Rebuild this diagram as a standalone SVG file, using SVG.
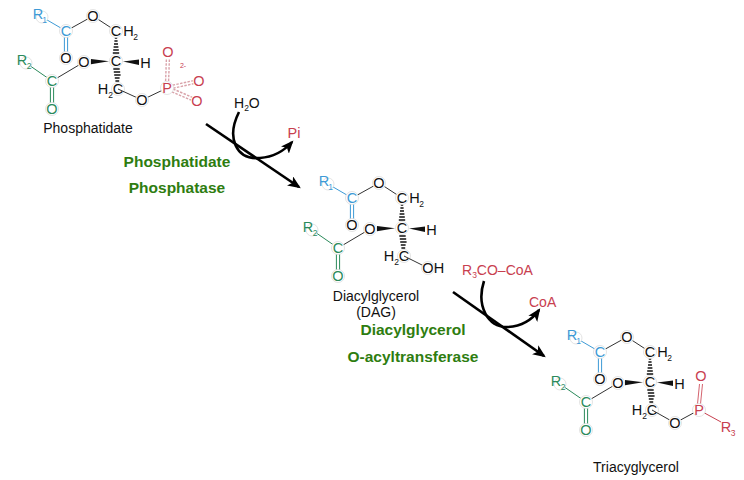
<svg xmlns="http://www.w3.org/2000/svg" width="744" height="480" viewBox="0 0 744 480">
<style>
text { font-family: "Liberation Sans", Arial, Helvetica, sans-serif; }
.at { font-size: 14.5px; text-anchor: middle; }
.sub { font-size: 8.5px; text-anchor: middle; }
.lbl { font-size: 14px; text-anchor: middle; fill: #111; }
.enz { font-size: 15.5px; font-weight: bold; text-anchor: middle; fill: #2e7d10; }
.ring { fill: #fff; stroke: #dcdcdc; stroke-width: 0.8; }
.bond { stroke: #333; stroke-width: 1; fill: none; }
.bl { stroke: #3d9ad6; }
.gr { stroke: #2b8a5b; }
.rd { stroke: #c8404f; }
.pdash { stroke: #d9a3aa; stroke-width: 1.4; stroke-dasharray: 2.5 1.3; fill: none; }
.tb { fill: #3d9ad6; }
.tg { fill: #2b8a5b; }
.tr { fill: #c8404f; }
.tk { fill: #111; }
.arrow { stroke: #000; stroke-width: 2.6; fill: none; marker-end: url(#head); }
</style>
<defs>
<marker id="head" viewBox="0 0 12 10" refX="10" refY="5" markerWidth="13" markerHeight="11" markerUnits="userSpaceOnUse" orient="auto">
<path d="M0,0 L12,5 L0,10 L3,5 Z" fill="#000"/>
</marker>
<g id="core">
<line class="bond bl" x1="-74" y1="-44" x2="-50" y2="-30"/>
<line class="bond" x1="-50" y1="-30" x2="-23" y2="-45"/>
<line class="bond" x1="-23" y1="-45" x2="0" y2="-30"/>
<line class="bond bl" x1="-51.6" y1="-30" x2="-51.6" y2="-3"/>
<line class="bond bl" x1="-48.4" y1="-30" x2="-48.4" y2="-3"/>
<line class="bond gr" x1="-90" y1="2" x2="-64" y2="20"/>
<line class="bond" x1="-64" y1="20" x2="-32" y2="1"/>
<line class="bond gr" x1="-65.6" y1="20" x2="-65.6" y2="48"/>
<line class="bond gr" x1="-62.4" y1="20" x2="-62.4" y2="48"/>
<polygon points="-7,0.3 -25,-1.9 -25,3.3" fill="#111"/>
<polygon points="7,0.5 23,-1.5 23,3.9" fill="#111"/>
<path d="M-3.2,-8H3.2M-2.8,-11H2.8M-2.4,-14H2.4M-2,-17H2M-1.6,-20H1.6M-1.2,-23H1.2" stroke="#111" stroke-width="1.3"/>
<path d="M-2.7,8H3.7M-2.2,11H4.2M-1.8,14H4.6M-1.2,17H3.6M-0.6,20H3.2" stroke="#111" stroke-width="1.3"/>
<circle class="ring" cx="-74" cy="-44" r="6"/>
<circle class="ring" cx="-50" cy="-30" r="6.5"/>
<circle class="ring" cx="-23" cy="-45" r="6.5"/>
<circle class="ring" cx="0" cy="-30" r="6.5"/>
<circle class="ring" cx="-50" cy="-3" r="6.5"/>
<circle class="ring" cx="-32" cy="1" r="6.5"/>
<circle class="ring" cx="0" cy="0" r="6.5"/>
<circle class="ring" cx="-90" cy="2" r="6"/>
<circle class="ring" cx="-64" cy="20" r="6.5"/>
<circle class="ring" cx="-64" cy="48" r="6.5"/>
<circle class="ring" cx="2" cy="28" r="6.5"/>
<text class="at tb" x="-78" y="-41.8">R</text><text class="sub tb" x="-71.5" y="-38">1</text>
<text class="at tb" x="-50" y="-24.8">C</text>
<text class="at tk" x="-23" y="-39.8">O</text>
<text class="at tk" x="0" y="-24.8">C</text><text class="at tk" x="12.5" y="-24.8">H</text><text class="sub tk" x="19.5" y="-21">2</text>
<text class="at tk" x="-50" y="2.2">O</text>
<text class="at tk" x="-32" y="6.2">O</text>
<text class="at tk" x="0" y="5.2">C</text>
<text class="at tk" x="29.5" y="7.2">H</text>
<text class="at tg" x="-94" y="4.2">R</text><text class="sub tg" x="-87" y="7.5">2</text>
<text class="at tg" x="-64" y="25.2">C</text>
<text class="at tg" x="-64" y="53.2">O</text>
<text class="at tk" x="-13" y="33.2">H</text><text class="sub tk" x="-5.5" y="36.5">2</text><text class="at tk" x="2" y="33.2">C</text>
</g>
</defs>
<rect width="744" height="480" fill="#fff"/>

<g id="phosphatidate" transform="translate(116,61)">
<use href="#core"/>
<line class="bond" x1="2" y1="28" x2="26" y2="39"/>
<line class="bond" x1="26" y1="39" x2="51" y2="27"/>
<line class="pdash" x1="49.6" y1="20" x2="50.4" y2="-2"/>
<line class="pdash" x1="52.6" y1="20" x2="53.4" y2="-2"/>
<line class="pdash" x1="57.2" y1="27.2" x2="77.4" y2="22.8"/>
<line class="pdash" x1="56.6" y1="24.2" x2="76.8" y2="19.8"/>
<line class="pdash" x1="55.9" y1="30.8" x2="74.9" y2="39"/>
<line class="pdash" x1="57.1" y1="28" x2="76.1" y2="36.2"/>
<circle class="ring" cx="26" cy="39" r="6.5"/>
<circle class="ring" cx="51" cy="27" r="6.5"/>
<text class="at tk" x="26" y="44.2">O</text>
<text class="at tr" x="51" y="32.2">P</text>
<text class="at tr" x="52" y="-3.8">O</text>
<text class="at tr" x="83" y="25.2">O</text>
<text class="at tr" x="81" y="45.2">O</text>
<text class="sub tr" x="67" y="7" style="font-size:7px">2-</text>
<text class="lbl" x="-28" y="72">Phosphatidate</text>
</g>

<g id="dag" transform="translate(402,228)">
<use href="#core"/>
<line class="bond" x1="2" y1="28" x2="26" y2="40"/>
<circle class="ring" cx="26" cy="40" r="6.5"/>
<text class="at tk" x="26" y="45.2">O</text>
<text class="at tk" x="37" y="45.2">H</text>
<text class="lbl" x="-26" y="73">Diacylglycerol</text>
<text class="lbl" x="-26" y="89">(DAG)</text>
</g>

<g id="tag" transform="translate(650,382)">
<use href="#core"/>
<line class="bond" x1="2" y1="28" x2="25" y2="41"/>
<line class="bond" x1="25" y1="41" x2="49" y2="28"/>
<line class="bond" x1="47.5" y1="22" x2="49.5" y2="2" style="stroke:#d4636e"/>
<line class="bond" x1="50.5" y1="22" x2="52.5" y2="2" style="stroke:#d4636e"/>
<line class="bond rd" x1="49" y1="28" x2="71" y2="40"/>
<circle class="ring" cx="25" cy="41" r="6.5"/>
<circle class="ring" cx="49" cy="28" r="6.5"/>
<text class="at tk" x="25" y="46.2">O</text>
<text class="at tr" x="49" y="33.2">P</text>
<text class="at tr" x="51" y="-0.8">O</text>
<text class="at tr" x="76" y="50.2">R</text><text class="sub tr" x="83" y="54">3</text>
<text class="lbl" x="-14" y="90">Triacyglycerol</text>
</g>

<g id="step1">
<text class="enz" x="177" y="167">Phosphatidate</text>
<text class="enz" x="177" y="193">Phosphatase</text>
<text class="tk" x="234" y="108" style="font-size:14px">H<tspan style="font-size:8.5px" dy="3">2</tspan><tspan dy="-3">O</tspan></text>
<text class="at tr" x="294" y="138">Pi</text>
</g>

<g id="step2">
<text class="enz" x="413" y="335">Diacylglycerol</text>
<text class="enz" x="413" y="362">O-acyltransferase</text>
<text class="tr" x="462" y="275" style="font-size:14px">R<tspan style="font-size:8.5px" dy="3">3</tspan><tspan dy="-3">CO–CoA</tspan></text>
<text class="tr" x="529" y="307" style="font-size:14px">CoA</text>
</g>

<g id="connectors">
<line class="arrow" x1="206" y1="124" x2="299" y2="187"/>
<path class="arrow" d="M239,112 C226,138 236,160 260,158 C274,157 284,151 292,142"/>
<line class="arrow" x1="453" y1="292" x2="544" y2="356"/>
<path class="arrow" d="M484,281 C476,306 488,328 508,327 C522,326 532,320 539,310"/>
</g>
</svg>
